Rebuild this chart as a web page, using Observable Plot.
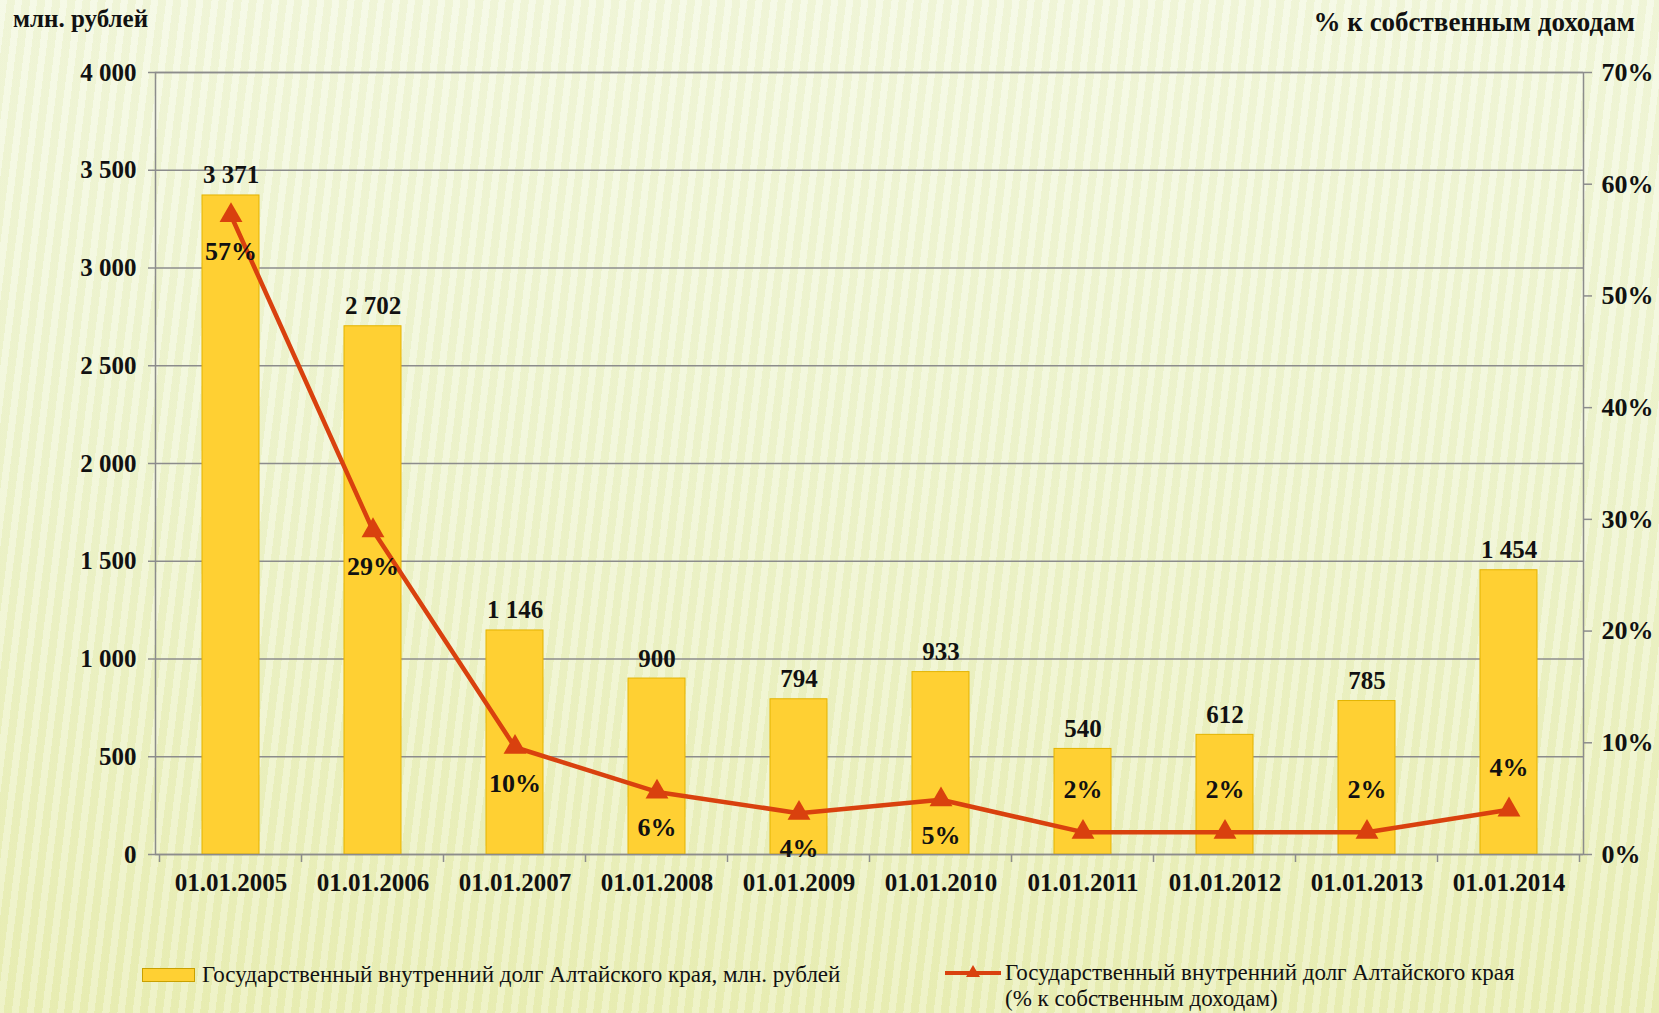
<!DOCTYPE html>
<html>
<head>
<meta charset="utf-8">
<script src="https://cdn.jsdelivr.net/npm/d3@7"></script>
<script src="https://cdn.jsdelivr.net/npm/@observablehq/plot@0.6"></script>
<style>
  html, body { margin: 0; padding: 0; }
  #root {
    position: relative; width: 1659px; height: 1013px; overflow: hidden;
    font-family: "Liberation Serif", "Times New Roman", serif; color: #111;
    background:
      repeating-linear-gradient(97deg, rgba(255,255,255,0.22) 0px, rgba(255,255,255,0.22) 7px, rgba(190,200,90,0.07) 7px, rgba(190,200,90,0.07) 15px),
      linear-gradient(to bottom, #F3F8E0 0%, #EFF5D2 45%, #EAEFB8 100%);
  }
  #chart { position: absolute; left: 0; top: 0; }
  .title { position: absolute; font-weight: bold; font-size: 25px; white-space: nowrap; }
  .legend { position: absolute; font-size: 23px; white-space: nowrap; line-height: 26px; }
</style>
</head>
<body>
<div id="root">
  <div id="chart"></div>
  <div class="title" style="left:13px; top:5px;">млн. рублей</div>
  <div class="title" style="right:24px; top:7px; font-size:27px;">% к собственным доходам</div>
  <div class="legend" style="left:142px; top:960px;">
    <span style="display:inline-block; width:51px; height:12px; background:#FFD033; border:1px solid #C9A000; vertical-align:middle; margin-right:7px;"></span><span style="vertical-align:middle;">Государственный внутренний долг Алтайского края, млн. рублей</span>
  </div>
  <div class="legend" style="left:945px; top:960px;">
    <svg width="56" height="26" style="vertical-align:top;"><line x1="0" y1="13" x2="56" y2="13" stroke="#D9410E" stroke-width="4"/><path d="M28,5 L35,17 L21,17 Z" fill="#D9410E"/></svg><span style="display:inline-block; vertical-align:top; margin-left:4px;">Государственный внутренний долг Алтайского края<br>(% к собственным доходам)</span>
  </div>
</div>
<script>
const categories = ["01.01.2005","01.01.2006","01.01.2007","01.01.2008","01.01.2009","01.01.2010","01.01.2011","01.01.2012","01.01.2013","01.01.2014"];
const debt = [3371, 2702, 1146, 900, 794, 933, 540, 612, 785, 1454];
const share = [57.2, 29.0, 9.6, 5.6, 3.7, 4.9, 2.0, 2.0, 2.0, 4.0];
const leftTicks = [0, 500, 1000, 1500, 2000, 2500, 3000, 3500, 4000];
const rightTicks = [0, 10, 20, 30, 40, 50, 60, 70];

const ratio = 4000 / 70;
const data = categories.map((c, i) => ({cat: c, debt: debt[i], share: share[i], i}));
const fmt = d => d3.format(",")(d).replace(/,/g, " ");
const red = "#D9410E";
const grid = "#8C8C8C";

const chart = Plot.plot({
  width: 1659, height: 930,
  marginLeft: 155, marginRight: 76, marginTop: 72, marginBottom: 76,
  x: {domain: categories, paddingInner: 0.6, paddingOuter: 0.3, label: null},
  y: {domain: [0, 4000], label: null},
  style: {background: "transparent", fontFamily: "'Liberation Serif', 'Times New Roman', serif", fontSize: "25px", fontWeight: "bold", color: "#111", overflow: "visible"},
  marks: [
    Plot.gridY(leftTicks, {stroke: grid, strokeOpacity: 1, strokeWidth: 1.5}),
    Plot.barY(data, {x: "cat", y: "debt", fill: "#FFD033", stroke: "#E3B300", strokeWidth: 1}),
    Plot.frame({stroke: grid, strokeWidth: 1.5}),
    Plot.axisY(leftTicks, {anchor: "left", tickSize: 7, tickPadding: 12, tickFormat: fmt, stroke: grid, fill: "#111", strokeWidth: 1.5}),
    Plot.axisY(rightTicks.map(d => d * ratio), {anchor: "right", tickSize: 8, tickPadding: 10, fontSize: 26, tickFormat: d => Math.round(d / ratio) + "%", stroke: grid, fill: "#111", strokeWidth: 1.5}),
    Plot.axisX({tickSize: 0, tickPadding: 19, fill: "#111"}),
    Plot.line(data, {x: "cat", y: d => d.share * ratio, stroke: red, strokeWidth: 4.5}),
    Plot.dot(data, {x: "cat", y: d => d.share * ratio, symbol: "triangle", r: 8.5, fill: red, stroke: null}),
    Plot.text(data, {x: "cat", y: "debt", text: d => fmt(d.debt), dy: -20, fill: "#111"}),
    Plot.text(data.filter(d => d.i < 6), {x: "cat", y: d => d.share * ratio, text: d => Math.round(d.share) + "%", dy: 36, fontSize: 26, fill: "#111"}),
    Plot.text(data.filter(d => d.i >= 6), {x: "cat", y: d => d.share * ratio, text: d => Math.round(d.share) + "%", dy: -42, fontSize: 26, fill: "#111"})
  ]
});

// category boundary ticks on the x axis
const xs = chart.scale("x");
const ys = chart.scale("y");
const y0 = ys.apply(0);
const bounds = categories.map(c => xs.apply(c) + xs.bandwidth / 2 - xs.step / 2);
bounds.push(xs.apply(categories[categories.length - 1]) + xs.bandwidth / 2 + xs.step / 2);
d3.select(chart).append("g").selectAll("line").data(bounds).join("line")
  .attr("x1", d => d).attr("x2", d => d)
  .attr("y1", y0).attr("y2", y0 + 8)
  .attr("stroke", grid).attr("stroke-width", 1.5);

document.getElementById("chart").appendChild(chart);
</script>
</body>
</html>
